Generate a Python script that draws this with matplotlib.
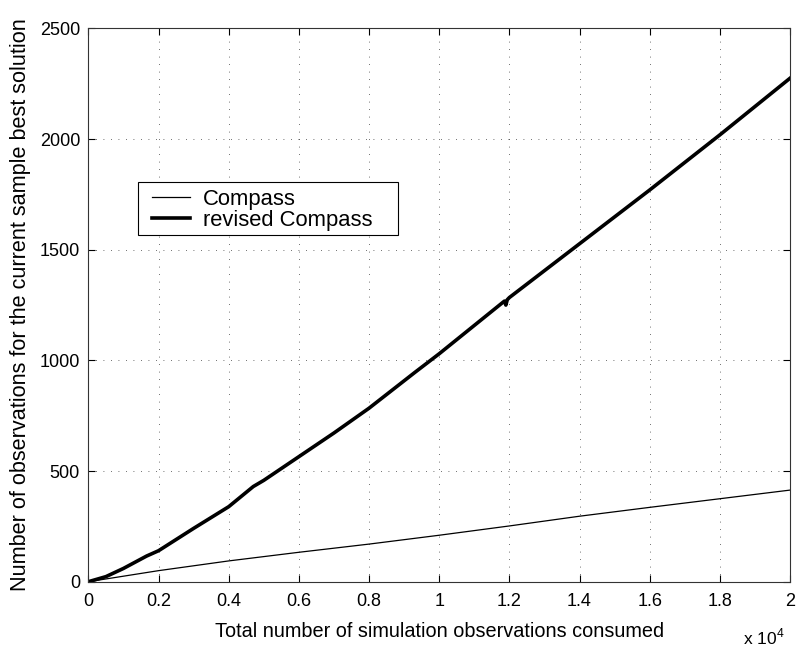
import numpy as np
import matplotlib
matplotlib.use("Agg")
import matplotlib.pyplot as plt
from matplotlib.patches import Rectangle

plt.rcParams['font.family'] = ['Liberation Sans', 'DejaVu Sans']
plt.rcParams['mathtext.fontset'] = 'custom'
plt.rcParams['mathtext.rm'] = 'Liberation Sans'

# x in units of 10^4 simulation observations
compass_x = [0, 0.2, 0.4, 0.6, 0.8, 1.0, 1.2, 1.4, 1.6, 1.8, 2.0]
compass_y = [0, 50, 94, 133, 170, 210, 252, 296, 336, 375, 414]

revised_x = [0, 0.05, 0.1, 0.166, 0.2, 0.3, 0.4, 0.47, 0.5, 0.6, 0.7, 0.8, 0.93,
             1.0, 1.186, 1.19, 1.194, 1.2, 1.4, 1.6, 1.8, 2.0]
revised_y = [0, 23, 60, 116, 140, 241, 339, 430, 458, 565, 672, 784, 945,
             1030, 1268, 1250, 1274, 1284, 1527, 1770, 2019, 2275]

fig = plt.figure(figsize=(7.96, 6.46), dpi=100)
ax = fig.add_axes([0.111, 0.0995, 0.8815, 0.8565])

ax.plot(compass_x, compass_y, color='black', lw=0.9, label='Compass')
ax.plot(revised_x, revised_y, color='black', lw=2.6, label='revised Compass')

ax.set_xlim(0, 2)
ax.set_ylim(0, 2500)
ax.set_xticks(np.arange(0, 2.01, 0.2))
ax.set_xticklabels(['0', '0.2', '0.4', '0.6', '0.8', '1', '1.2', '1.4', '1.6', '1.8', '2'])
ax.set_yticks(np.arange(0, 2501, 500))

ax.grid(True, linestyle=(0, (1, 8)), color='black', lw=0.6, alpha=0.75)
ax.tick_params(direction='in', top=True, right=True, labelsize=13, length=5, width=0.8)
ax.tick_params(axis='x', pad=8)
ax.tick_params(axis='y', pad=6)
for s in ax.spines.values():
    s.set_linewidth(0.8)
    s.set_color('#333333')

ax.set_xlabel('Total number of simulation observations consumed', fontsize=14.3, labelpad=9)
ax.set_ylabel('Number of observations for the current sample best solution', fontsize=15.6, labelpad=6)
ax.text(0.933, -0.1, r'x 10$^{4}$', transform=ax.transAxes, fontsize=12.5, ha='left', va='center')

# legend box drawn separately to mimic the wide MATLAB frame
ax.add_patch(Rectangle((0.0713, 0.6267), 0.3701, 0.0964, transform=ax.transAxes,
                       facecolor='white', edgecolor='black', lw=0.8, zorder=4))
leg = ax.legend(loc='upper left', bbox_to_anchor=(0.0908, 0.710), fontsize=15.8,
                frameon=False, handlelength=1.73, borderpad=0, borderaxespad=0,
                labelspacing=0, handletextpad=0.6)
leg.set_zorder(5)

fig.savefig('out.png', dpi=100)
